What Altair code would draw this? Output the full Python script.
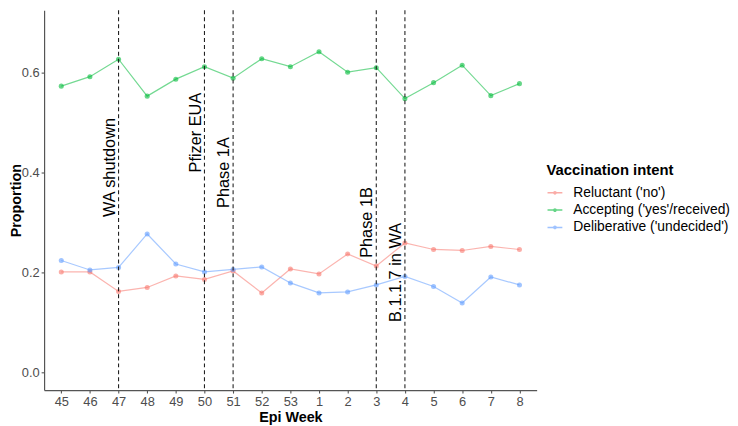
import altair as alt
import pandas as pd

weeks = ["45", "46", "47", "48", "49", "50", "51", "52", "53",
         "1", "2", "3", "4", "5", "6", "7", "8"]
series = ["Reluctant ('no')", "Accepting ('yes'/received)", "Deliberative ('undecided')"]
reluctant = [0.201, 0.201, 0.162, 0.170, 0.193, 0.186, 0.203, 0.159, 0.207,
             0.197, 0.237, 0.213, 0.259, 0.246, 0.244, 0.252, 0.246]
accepting = [0.573, 0.592, 0.627, 0.553, 0.587, 0.612, 0.589, 0.628, 0.612,
             0.642, 0.601, 0.610, 0.548, 0.580, 0.615, 0.554, 0.578]
deliberative = [0.224, 0.205, 0.210, 0.277, 0.217, 0.201, 0.206, 0.211, 0.179,
                0.159, 0.161, 0.175, 0.192, 0.172, 0.139, 0.191, 0.175]
colors = ["#F8766D", "#00BA38", "#619CFF"]

event_weeks = ["47", "50", "51", "3", "4"]
event_labels = ["WA shutdown", "Pfizer EUA", "Phase 1A", "Phase 1B", "B.1.1.7 in WA"]
event_label_y = [0.41, 0.48, 0.40, 0.30, 0.20]

y_ticks = [0.0, 0.2, 0.4, 0.6]

rows = []
for name, vals in zip(series, [reluctant, accepting, deliberative]):
    for w, v in zip(weeks, vals):
        rows.append({"week": w, "series": name, "value": v})
df = pd.DataFrame(rows)
events = pd.DataFrame({"week": event_weeks, "label": event_labels, "y": event_label_y})

FONT = "Liberation Sans"
x_scale = alt.Scale(type="point", domain=weeks, padding=0.6)
y_scale = alt.Scale(domain=[-0.0356, 0.7248], nice=False, zero=False)
color_scale = alt.Scale(domain=series, range=colors)

x_enc = alt.X("week:O", scale=x_scale, title="Epi Week",
              axis=alt.Axis(labelAngle=0))
y_enc = alt.Y("value:Q", scale=y_scale, title="Proportion",
              axis=alt.Axis(values=y_ticks, format=".1f"))

legend = alt.Legend(
    title="Vaccination intent",
    orient="none", legendX=508, legendY=154,
    symbolType="M-1,0L1,0M-0.15,0a0.15,0.15 0 1,0 0.3,0a0.15,0.15 0 1,0 -0.3,0M-0.07,0a0.07,0.07 0 1,0 0.14,0a0.07,0.07 0 1,0 -0.14,0",
    symbolSize=225, symbolStrokeWidth=1.5, symbolOpacity=0.6,
    labelFontSize=14, labelFont=FONT, labelColor="black", labelLimit=0,
    titleFontSize=15, titleFont=FONT, titleFontWeight="bold", titleColor="black",
    titlePadding=7, rowPadding=1.5, labelOffset=10, titleLimit=0,
)

base = alt.Chart(df)
lines = base.mark_line(strokeWidth=1.2, opacity=0.55).encode(
    x=x_enc, y=y_enc,
    color=alt.Color("series:N", scale=color_scale, legend=legend),
)
points = base.mark_circle(size=26, opacity=0.6).encode(
    x=x_enc, y=y_enc,
    color=alt.Color("series:N", scale=color_scale, legend=None),
)
rules = alt.Chart(events).mark_rule(
    strokeDash=[4, 3], color="#222222", strokeWidth=1.1
).encode(x=alt.X("week:O", scale=x_scale))
texts = alt.Chart(events).mark_text(
    angle=270, align="center", baseline="alphabetic", dy=-4,
    fontSize=16.5, font=FONT, color="black"
).encode(
    x=alt.X("week:O", scale=x_scale),
    y=alt.Y("y:Q", scale=y_scale),
    text="label:N",
)

chart = alt.layer(lines, points, rules, texts).properties(
    width=498, height=384,
    autosize=alt.AutoSizeParams(type="none"),
    padding={"left": 36.5, "top": 0, "right": 195.5, "bottom": 40},
).configure_view(stroke=None).configure_axis(
    grid=False,
    domainColor="#555555", domainWidth=1.2,
    tickColor="#555555", tickSize=3, tickWidth=1.1,
    labelColor="#4D4D4D", labelFontSize=13, labelFont=FONT,
    titleColor="black", titleFontSize=14.5, titleFont=FONT, titleFontWeight="bold",
).configure_axisX(titlePadding=2, labelPadding=3).configure_axisY(titlePadding=-2, labelPadding=2)

chart.save("out.html", embed_options={"renderer": "svg", "actions": False})
